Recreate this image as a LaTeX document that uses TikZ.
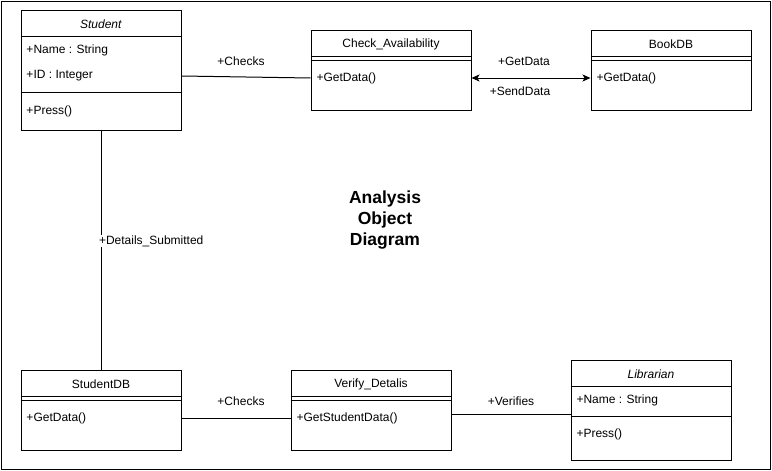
\documentclass[tikz,border=0pt]{standalone}
\usepackage{fontspec}
\setmainfont{Liberation Sans}
\usetikzlibrary{arrows.meta,positioning}
\tikzset{
  cbox/.style={draw, minimum width=160pt, inner sep=0pt},
  ctitle/.style={inner sep=0pt, yshift=-1pt, font=\fontsize{12}{14}\selectfont},
  citem/.style={anchor=west, inner sep=0pt, yshift=-1pt, font=\fontsize{12}{14}\selectfont},
  lbl/.style={inner sep=0pt, yshift=-1pt, font=\fontsize{12}{14}\selectfont},
  heading/.style={align=center, inner sep=0pt, font=\fontsize{17.5}{21}\selectfont\bfseries}
}

\begin{document}
\begin{tikzpicture}[x=1pt, y=-1pt, line width=1pt]
  \useasboundingbox (0,0) rectangle (772,471);
  \draw (1,1) rectangle (770,469);

  % classes
  \node[cbox, minimum height=120pt] (student) at (101,70) {};
  \node[ctitle] (studenthd) at (101,23) {\textit{Student}};
  \draw (student.west |- 0,36) -- (student.east |- 0,36);
  \node[citem] (stname) at (26,49) {+Name : String};
  \node[citem] (stid) at (26,75) {+ID : Integer};
  \draw (student.west |- 0,92) -- (student.east |- 0,92);
  \node[citem] (stpress) at (26,110) {+Press()};

  \node[cbox, minimum height=80pt] (chk) at (391,70) {};
  \node[ctitle] (chkhd) at (391,43) {Check\_Availability};
  \draw (chk.west |- 0,56) -- (chk.east |- 0,56);
  \draw (chk.west |- 0,60) -- (chk.east |- 0,60);
  \node[citem] (chkop) at (316,77) {+GetData()};

  \node[cbox, minimum height=80pt] (book) at (671,70) {};
  \node[ctitle] (bookhd) at (671,43) {BookDB};
  \draw (book.west |- 0,56) -- (book.east |- 0,56);
  \draw (book.west |- 0,60) -- (book.east |- 0,60);
  \node[citem] (bookop) at (596,77) {+GetData()};

  \node[cbox, minimum height=80pt] (sdb) at (101,410) {};
  \node[ctitle] (sdbhd) at (101,383) {StudentDB};
  \draw (sdb.west |- 0,396) -- (sdb.east |- 0,396);
  \draw (sdb.west |- 0,400) -- (sdb.east |- 0,400);
  \node[citem] (sdbop) at (26,417) {+GetData()};

  \node[cbox, minimum height=80pt] (vd) at (371,410) {};
  \node[ctitle] (vdhd) at (371,383) {Verify\_Detalis};
  \draw (vd.west |- 0,396) -- (vd.east |- 0,396);
  \draw (vd.west |- 0,400) -- (vd.east |- 0,400);
  \node[citem] (vdop) at (296,417) {+GetStudentData()};

  \node[cbox, minimum height=100pt] (lib) at (651,410) {};
  \node[ctitle] (libhd) at (651,373) {\textit{Librarian}};
  \draw (lib.west |- 0,386) -- (lib.east |- 0,386);
  \node[citem] (libname) at (576,399) {+Name : String};
  \draw (lib.west |- 0,416) -- (lib.east |- 0,416);
  \node[citem] (libpress) at (576,433) {+Press()};

  \node[heading] (title) at (385,220) {Analysis\\Object\\Diagram};

  % links
  \draw (student.east |- stid) -- (chk.west |- chkop);
  \node[lbl] (l1) at (241,60) {+Checks};
  \draw[<->, >={Stealth[length=8pt, width=7pt, inset=2pt]}] (chk.east |- chkop) -- (book.west |- bookop);
  \node[lbl] (l2) at (524,60) {+GetData};
  \node[lbl] (l3) at (520,90) {+SendData};
  \draw (student.south) -- (sdb.north);
  \node[lbl, anchor=west, fill=white] (l4) at (98.5,240) {+Details\_Submitted};
  \draw (sdb.east |- sdbop) -- (vd.west |- vdop);
  \node[lbl] (l5) at (241,400) {+Checks};
  \draw ([yshift=-4pt]vd.east) -- ([yshift=-4pt]vd.east -| lib.west);
  \node[lbl] (l6) at (511,400) {+Verifies};
\end{tikzpicture}
\end{document}
